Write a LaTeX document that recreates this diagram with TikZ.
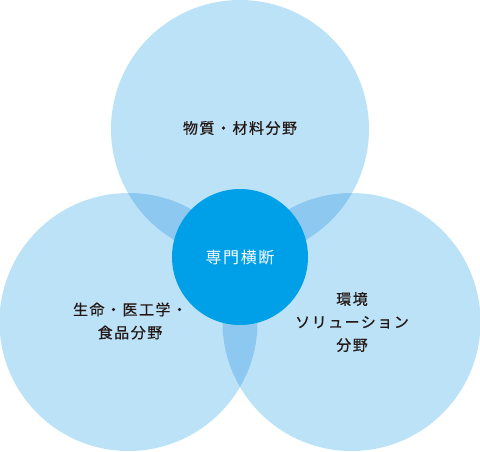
\documentclass[tikz,border=0pt]{standalone}
\usepackage{fontspec}
\newfontfamily\jpfont[LetterSpace=10]{Noto Sans CJK JP}
\newfontfamily\jpheavy[LetterSpace=10, FakeBold=0.6]{Noto Sans CJK JP}
\usetikzlibrary{positioning}
\definecolor{field}{HTML}{BCE2F7}
\definecolor{overlap}{HTML}{8DC8F0}
\definecolor{core}{HTML}{00A0E9}
\definecolor{ink}{HTML}{231815}
\tikzset{
  fieldcircle/.style={fill=field},
  overlapfill/.style={fill=overlap},
  corecircle/.style={circle, fill=core, minimum size=136pt, inner sep=0pt,
    text=white, font=\jpfont\fontsize{16}{20}\selectfont},
  fieldlbl/.style={font=\jpheavy\fontsize{15}{23}\selectfont, text=ink, align=center}
}
\begin{document}
\begin{tikzpicture}[x=1pt, y=-1pt]

  \useasboundingbox (0,0) rectangle (480,451);

  % ---- Circle centres ------------------------------------------------------
  \coordinate (top)   at (240,   129);
  \coordinate (left)  at (128.5, 322);
  \coordinate (right) at (351.5, 322);

  % ---- The three fields ----------------------------------------------------
  \fill[fieldcircle] (top)   circle (129pt);
  \fill[fieldcircle] (left)  circle (129pt);
  \fill[fieldcircle] (right) circle (129pt);

  % ---- Pairwise overlaps ---------------------------------------------------
  \begin{scope}
    \clip (top) circle (129pt);
    \fill[overlapfill] (left) circle (129pt);
    \fill[overlapfill] (right) circle (129pt);
  \end{scope}
  \begin{scope}
    \clip (left) circle (129pt);
    \fill[overlapfill] (right) circle (129pt);
  \end{scope}

  % ---- Centre --------------------------------------------------------------
  \node[corecircle] (cross) at (240, 257) {専門横断};

  % ---- Field labels --------------------------------------------------------
  \node[fieldlbl] (matl) at (240, 128) {物質・材料分野};
  \node[fieldlbl] (life) at (130, 321) {生命・医工学・\\食品分野};
  \node[fieldlbl] (envr) at (352, 322) {環境\\ソリューション\\分野};

\end{tikzpicture}
\end{document}
